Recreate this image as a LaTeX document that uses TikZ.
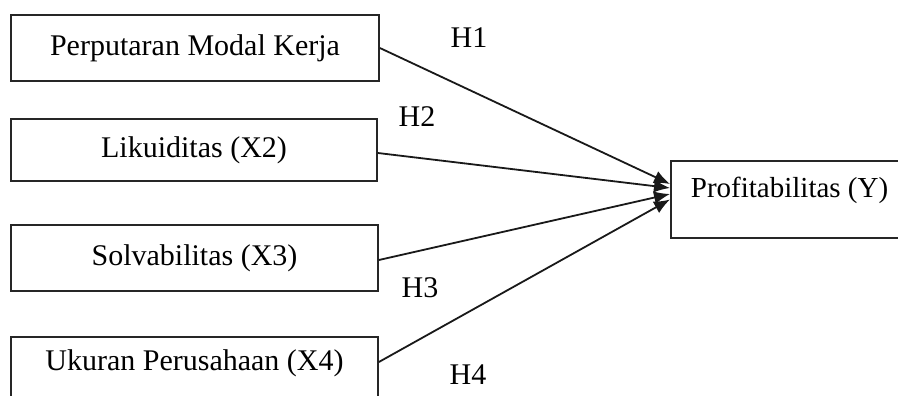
\documentclass[tikz,border=0pt]{standalone}
\usepackage{fontspec}
\setmainfont{Liberation Serif}
\usetikzlibrary{arrows.meta,calc}
\begin{document}
\begin{tikzpicture}[x=1pt,y=-1pt,
  box/.style={draw=black!85, line width=1.8pt, inner sep=0pt, font=\fontsize{30}{36}\selectfont},
  hlab/.style={font=\fontsize{30}{36}\selectfont, inner sep=0pt},
  conn/.style={draw=black!90, line width=1.8pt, -{Latex[length=16pt,width=13pt]}}]
\useasboundingbox (0,0) rectangle (898,396);
\clip (0,0) rectangle (898,396);
\node[box, minimum width=368pt, minimum height=66pt] (x1) at (195,48) {Perputaran Modal Kerja};
\node[box, minimum width=366pt, minimum height=62pt] (x2) at (194,150) {Likuiditas (X2)};
\node[box, minimum width=367pt, minimum height=66pt] (x3) at (194.5,258) {Solvabilitas (X3)};
\node[box, minimum width=367pt, text height=33pt, text depth=33pt] (x4) at (194.5,370) {Ukuran Perusahaan (X4)};
\node[box, anchor=west, inner xsep=20pt, text height=36pt, text depth=41pt, font=\fontsize{29}{35}\selectfont] (py) at (670,199.5) {Profitabilitas (Y)};
\draw[conn] (x1.east) -- ($(py.west)+(0,-15.5)$);
\draw[conn] ([yshift=-3pt]x2.east) -- ($(py.west)+(0,-11.5)$);
\draw[conn] ([yshift=-2pt]x3.east) -- ($(py.west)+(0,-5.5)$);
\draw[conn] ([yshift=8pt]x4.east) -- ($(py.west)+(0,0)$);
\node[hlab] (h1) at (469,38) {H1};
\node[hlab] (h2) at (417,117) {H2};
\node[hlab] (h3) at (420,288) {H3};
\node[hlab] (h4) at (468,375) {H4};
\end{tikzpicture}
\end{document}
